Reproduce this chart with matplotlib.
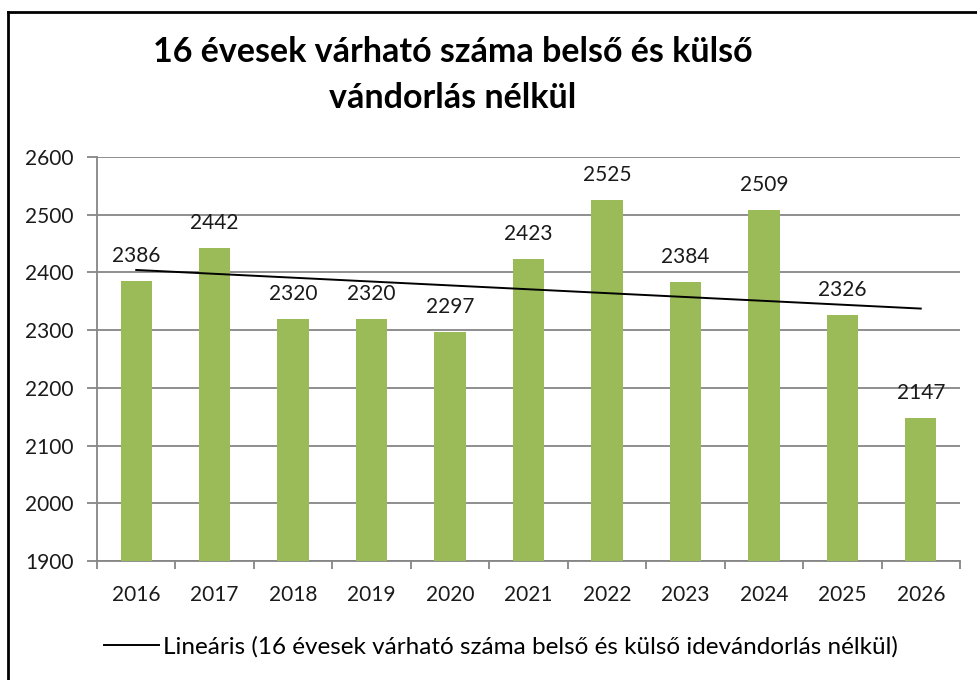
import matplotlib
matplotlib.use("Agg")
import matplotlib.pyplot as plt
import numpy as np
from matplotlib.lines import Line2D

years = ["2016", "2017", "2018", "2019", "2020", "2021", "2022", "2023", "2024", "2025", "2026"]
values = [2386, 2442, 2320, 2320, 2297, 2423, 2525, 2384, 2509, 2326, 2147]
title = "16 évesek várható száma belső és külső\nvándorlás nélkül"
trend_label = "Lineáris (16 évesek várható száma belső és külső idevándorlás nélkül)"
yticks = [1900, 2000, 2100, 2200, 2300, 2400, 2500, 2600]

plt.rcParams['font.family'] = ['Lato', 'DejaVu Sans']
W, H = 977, 680
fig = plt.figure(figsize=(W / 100, H / 100), dpi=100)
ax = fig.add_axes([97 / W, 1 - 561 / H, (960 - 97) / W, (561 - 157) / H])

x = np.arange(len(years))
ax.bar(x, values, width=0.4, color="#9BBB59", zorder=3)

# linear trend (least squares)
coef = np.polyfit(x, values, 1)
trend = np.polyval(coef, x)
ax.plot(x, trend, color="black", lw=1.4, zorder=4, label=trend_label)

for xi, v in zip(x, values):
    ax.annotate(str(v), (xi, v), xytext=(0, 18), textcoords="offset points",
                ha="center", va="center", fontsize=15, color="#1a1a1a", zorder=5)

ax.set_ylim(1900, 2600)
ax.set_yticks(yticks)
ax.set_xlim(-0.5, len(years) - 0.5)
ax.set_xticks(x)
ax.set_xticklabels(years)
ax.set_xticks(np.arange(-0.5, len(years), 1.0), minor=True)
ax.tick_params(axis="x", which="major", length=0, pad=17, labelsize=15)
ax.tick_params(axis="x", which="minor", length=6, width=1.3, color="#868686", direction="out")
ax.tick_params(axis="y", length=7, width=1.3, color="#868686", labelsize=15, pad=10)
for lbl in ax.get_yticklabels() + ax.get_xticklabels():
    lbl.set_color("#1a1a1a")
ax.grid(axis="y", color="#868686", lw=1.3, zorder=0)
for s in ["top", "right"]:
    ax.spines[s].set_visible(False)
for s in ["left", "bottom"]:
    ax.spines[s].set_color("#868686")
    ax.spines[s].set_linewidth(1.3)

fig.text(453 / W, 1 - 75 / H, title, ha="center", va="center", fontsize=24.5,
         fontweight="bold", linespacing=1.5, color="black")

fig.legend(loc="center", bbox_to_anchor=(501 / W, 1 - 647 / H), frameon=False,
           fontsize=17.5, handlelength=2.26, handletextpad=0.2)

# outer border (left and top)
fig.add_artist(Line2D([8 / W, 8 / W], [0, 1 - 12 / H], color="black", lw=2, transform=fig.transFigure))
fig.add_artist(Line2D([8 / W, 1], [1 - 12 / H, 1 - 12 / H], color="black", lw=2, transform=fig.transFigure))

fig.savefig("out.png", dpi=100)
